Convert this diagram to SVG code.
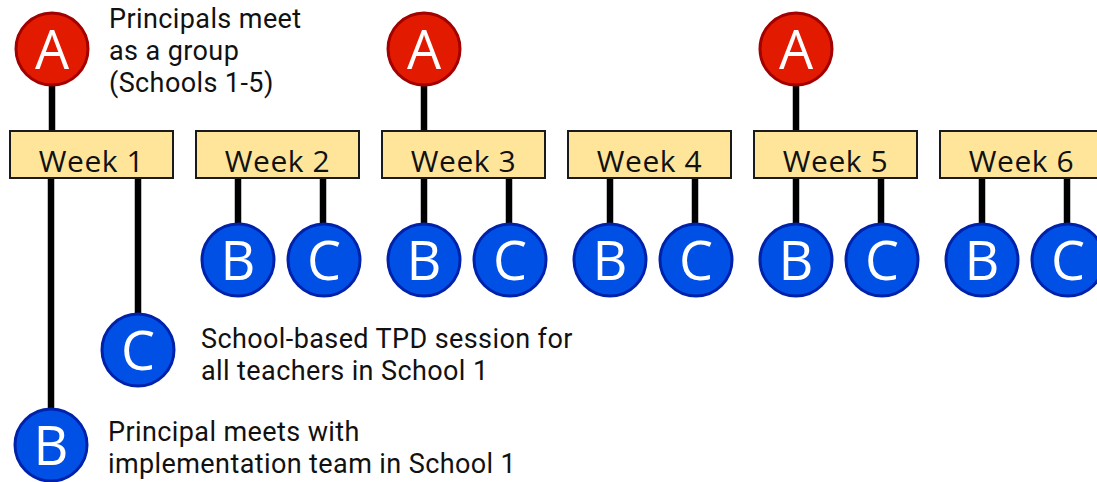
<svg xmlns="http://www.w3.org/2000/svg" width="1097" height="482" viewBox="0 0 1097 482">
  <style>
    .week rect { fill: #ffe59a; stroke: #1a1a1a; stroke-width: 2; }
    .week text { font-family: "Open Sans", "DejaVu Sans", sans-serif; font-size: 30px; letter-spacing: 0.6px; fill: #111; text-anchor: middle; }
    .a circle { fill: #e21a00; stroke: #a30000; stroke-width: 3; }
    .b circle { fill: #0050e6; stroke: #0022aa; stroke-width: 3; }
    .node text { font-family: "Open Sans", "DejaVu Sans", sans-serif; font-size: 54px; fill: #fff; text-anchor: middle; }
    .label { font-family: Roboto, "Open Sans", sans-serif; font-size: 27px; letter-spacing: 0.4px; fill: #111; }
    #connectors line { stroke: #000; stroke-width: 6.5; }
  </style>

  <rect width="1097" height="482" fill="#fff"/>

  <!-- connectors: activities hang off the week boxes -->
  <g id="connectors">
    <line x1="52" y1="86" x2="52" y2="131"/>
    <line x1="424" y1="86" x2="424" y2="131"/>
    <line x1="796" y1="86" x2="796" y2="131"/>
    <line x1="51" y1="178" x2="51" y2="409"/>
    <line x1="138" y1="178" x2="138" y2="314"/>
    <line x1="238" y1="178" x2="238" y2="224"/>
    <line x1="323" y1="178" x2="323" y2="224"/>
    <line x1="424" y1="178" x2="424" y2="224"/>
    <line x1="509" y1="178" x2="509" y2="224"/>
    <line x1="610" y1="178" x2="610" y2="224"/>
    <line x1="695" y1="178" x2="695" y2="224"/>
    <line x1="796" y1="178" x2="796" y2="224"/>
    <line x1="881" y1="178" x2="881" y2="224"/>
    <line x1="982" y1="178" x2="982" y2="224"/>
    <line x1="1067" y1="178" x2="1067" y2="224"/>
  </g>

  <!-- week boxes -->
  <g id="week1" class="week"><rect x="10" y="131" width="163" height="47"/><text x="91.5" y="172">Week 1</text></g>
  <g id="week2" class="week"><rect x="196" y="131" width="163" height="47"/><text x="277.5" y="172">Week 2</text></g>
  <g id="week3" class="week"><rect x="382" y="131" width="163" height="47"/><text x="463.5" y="172">Week 3</text></g>
  <g id="week4" class="week"><rect x="568" y="131" width="163" height="47"/><text x="649.5" y="172">Week 4</text></g>
  <g id="week5" class="week"><rect x="754" y="131" width="163" height="47"/><text x="835.5" y="172">Week 5</text></g>
  <g id="week6" class="week"><rect x="940" y="131" width="163" height="47"/><text x="1021.5" y="172">Week 6</text></g>

  <!-- A: principals' group meetings -->
  <g id="a-week1" class="node a"><circle cx="52" cy="49" r="36"/><text x="52" y="68.5">A</text></g>
  <g id="a-week3" class="node a"><circle cx="424" cy="49" r="36"/><text x="424" y="68.5">A</text></g>
  <g id="a-week5" class="node a"><circle cx="796" cy="49" r="36"/><text x="796" y="68.5">A</text></g>

  <!-- B / C: school-level sessions -->
  <g id="b-week1" class="node b"><circle cx="51" cy="445" r="36"/><text x="51" y="464.5">B</text></g>
  <g id="c-week1" class="node b"><circle cx="138" cy="350" r="36"/><text x="138" y="369.5">C</text></g>
  <g id="b-week2" class="node b"><circle cx="238" cy="260" r="36"/><text x="238" y="279.5">B</text></g>
  <g id="c-week2" class="node b"><circle cx="324" cy="260" r="36"/><text x="324" y="279.5">C</text></g>
  <g id="b-week3" class="node b"><circle cx="424" cy="260" r="36"/><text x="424" y="279.5">B</text></g>
  <g id="c-week3" class="node b"><circle cx="510" cy="260" r="36"/><text x="510" y="279.5">C</text></g>
  <g id="b-week4" class="node b"><circle cx="610" cy="260" r="36"/><text x="610" y="279.5">B</text></g>
  <g id="c-week4" class="node b"><circle cx="696" cy="260" r="36"/><text x="696" y="279.5">C</text></g>
  <g id="b-week5" class="node b"><circle cx="796" cy="260" r="36"/><text x="796" y="279.5">B</text></g>
  <g id="c-week5" class="node b"><circle cx="882" cy="260" r="36"/><text x="882" y="279.5">C</text></g>
  <g id="b-week6" class="node b"><circle cx="982" cy="260" r="36"/><text x="982" y="279.5">B</text></g>
  <g id="c-week6" class="node b"><circle cx="1068" cy="260" r="36"/><text x="1068" y="279.5">C</text></g>

  <!-- legend texts -->
  <text class="label" x="109" y="28">Principals meet</text>
  <text class="label" x="109" y="60">as a group</text>
  <text class="label" x="109" y="92">(Schools 1-5)</text>
  <text class="label" x="201" y="348">School-based TPD session for</text>
  <text class="label" x="201" y="380">all teachers in School 1</text>
  <text class="label" x="108" y="441">Principal meets with</text>
  <text class="label" x="108" y="473">implementation team in School 1</text>
</svg>
